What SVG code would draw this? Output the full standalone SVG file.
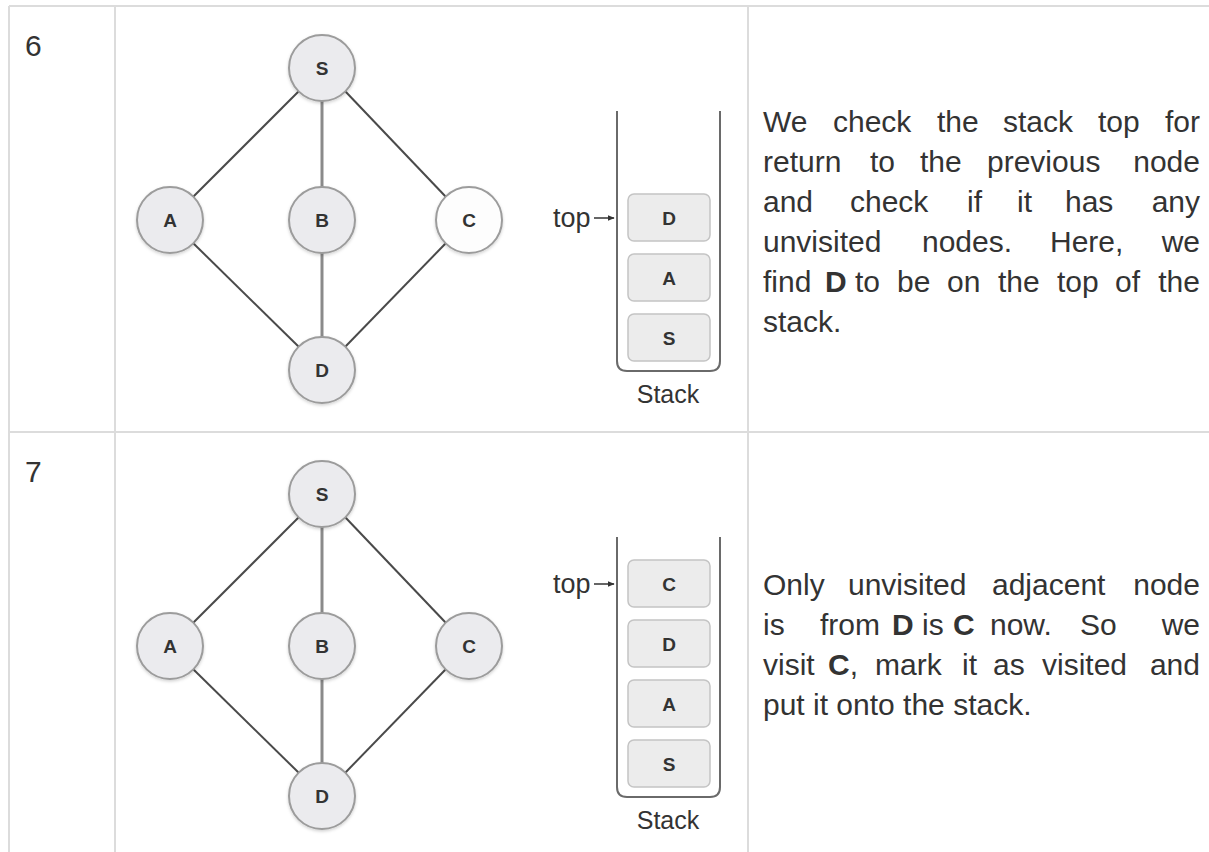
<svg xmlns="http://www.w3.org/2000/svg" width="1209" height="852" viewBox="0 0 1209 852">
<style>
.grid{stroke:#dcdcdc;stroke-width:2;fill:none}
.num{font-family:"Liberation Sans",Arial,sans-serif;font-size:30px;fill:#333}
.txt{font-family:"Liberation Sans",Arial,sans-serif;font-size:30px;fill:#333}
.b{font-weight:bold}
.node circle{fill:#ebebee;stroke:#9c9c9c;stroke-width:2}
.node.white circle{fill:#fdfdfd}
.lbl{font-family:"Liberation Sans",Arial,sans-serif;font-size:19px;font-weight:bold;fill:#333;text-anchor:middle;dominant-baseline:central}
.ed{stroke:#4a4a4a;stroke-width:2;fill:none}
.ev{stroke:#8a8a8a;stroke-width:3;fill:none}
.wall{stroke:#6a6a6a;stroke-width:2;fill:none}
.box rect{fill:#ececec;stroke:#c4c4c4;stroke-width:1.5}
.top{font-family:"Liberation Sans",Arial,sans-serif;font-size:27px;fill:#333}
.stk{font-family:"Liberation Sans",Arial,sans-serif;font-size:25px;fill:#333;text-anchor:middle}
</style>
<defs>
<marker id="ah" viewBox="0 0 10 10" refX="9" refY="5" markerWidth="7" markerHeight="7" orient="auto" markerUnits="userSpaceOnUse">
<path d="M0,1 L10,5 L0,9 z" fill="#333"/>
</marker>
<filter id="sh" x="-20%" y="-20%" width="140%" height="150%">
<feDropShadow dx="0" dy="1.5" stdDeviation="1.5" flood-color="#000" flood-opacity="0.18"/>
</filter>
</defs>
<rect width="1209" height="852" fill="#fff"/>
<g id="table">
<line class="grid" x1="9" y1="6" x2="1209" y2="6"/>
<line class="grid" x1="9" y1="432" x2="1209" y2="432"/>
<line class="grid" x1="9" y1="6" x2="9" y2="852"/>
<line class="grid" x1="115" y1="6" x2="115" y2="852"/>
<line class="grid" x1="748" y1="6" x2="748" y2="852"/>
<text class="num" x="25" y="56">6</text>
<text class="num" x="25" y="482">7</text>
</g>
<g id="connectors">
<line class="ed" x1="299" y1="91" x2="193" y2="197"/>
<line class="ev" x1="322" y1="101" x2="322" y2="187"/>
<line class="ed" x1="345" y1="91" x2="446" y2="197"/>
<line class="ed" x1="193" y1="243" x2="299" y2="347"/>
<line class="ev" x1="322" y1="253" x2="322" y2="337"/>
<line class="ed" x1="446" y1="243" x2="345" y2="347"/>
<line class="ed" x1="299" y1="517" x2="193" y2="623"/>
<line class="ev" x1="322" y1="527" x2="322" y2="613"/>
<line class="ed" x1="345" y1="517" x2="446" y2="623"/>
<line class="ed" x1="193" y1="669" x2="299" y2="773"/>
<line class="ev" x1="322" y1="679" x2="322" y2="763"/>
<line class="ed" x1="446" y1="669" x2="345" y2="773"/>
<line stroke="#333" stroke-width="1.5" x1="594" y1="218" x2="614" y2="218" marker-end="url(#ah)"/>
<line stroke="#333" stroke-width="1.5" x1="594" y1="584" x2="614" y2="584" marker-end="url(#ah)"/>
</g>
<g id="n6S" class="node"><circle cx="322" cy="68" r="33" filter="url(#sh)"/><text class="lbl" x="322" y="68">S</text></g>
<g id="n6A" class="node"><circle cx="170" cy="220" r="33" filter="url(#sh)"/><text class="lbl" x="170" y="220">A</text></g>
<g id="n6B" class="node"><circle cx="322" cy="220" r="33" filter="url(#sh)"/><text class="lbl" x="322" y="220">B</text></g>
<g id="n6C" class="node white"><circle cx="469" cy="220" r="33" filter="url(#sh)"/><text class="lbl" x="469" y="220">C</text></g>
<g id="n6D" class="node"><circle cx="322" cy="370" r="33" filter="url(#sh)"/><text class="lbl" x="322" y="370">D</text></g>
<g id="n7S" class="node"><circle cx="322" cy="494" r="33" filter="url(#sh)"/><text class="lbl" x="322" y="494">S</text></g>
<g id="n7A" class="node"><circle cx="170" cy="646" r="33" filter="url(#sh)"/><text class="lbl" x="170" y="646">A</text></g>
<g id="n7B" class="node"><circle cx="322" cy="646" r="33" filter="url(#sh)"/><text class="lbl" x="322" y="646">B</text></g>
<g id="n7C" class="node"><circle cx="469" cy="646" r="33" filter="url(#sh)"/><text class="lbl" x="469" y="646">C</text></g>
<g id="n7D" class="node"><circle cx="322" cy="796" r="33" filter="url(#sh)"/><text class="lbl" x="322" y="796">D</text></g>
<g id="stack6">
<path class="wall" d="M617,111 V361 Q617,371 627,371 H710 Q720,371 720,361 V111"/>
<g class="box"><rect x="628" y="194" width="82" height="47" rx="6"/><text class="lbl" x="669" y="218">D</text></g>
<g class="box"><rect x="628" y="254" width="82" height="47" rx="6"/><text class="lbl" x="669" y="278">A</text></g>
<g class="box"><rect x="628" y="314" width="82" height="47" rx="6"/><text class="lbl" x="669" y="338">S</text></g>
<text class="top" x="553" y="227">top</text>
<text class="stk" x="668" y="403">Stack</text>
</g>
<g id="stack7">
<path class="wall" d="M617,537 V787 Q617,797 627,797 H710 Q720,797 720,787 V537"/>
<g class="box"><rect x="628" y="560" width="82" height="47" rx="6"/><text class="lbl" x="669" y="584">C</text></g>
<g class="box"><rect x="628" y="620" width="82" height="47" rx="6"/><text class="lbl" x="669" y="644">D</text></g>
<g class="box"><rect x="628" y="680" width="82" height="47" rx="6"/><text class="lbl" x="669" y="704">A</text></g>
<g class="box"><rect x="628" y="740" width="82" height="47" rx="6"/><text class="lbl" x="669" y="764">S</text></g>
<text class="top" x="553" y="593">top</text>
<text class="stk" x="668" y="829">Stack</text>
</g>
<g id="desc6" class="txt">
<text class="txt" y="132"><tspan x="763">We</tspan><tspan x="833">check</tspan><tspan x="937">the</tspan><tspan x="1003">stack</tspan><tspan x="1098">top</tspan><tspan x="1200" text-anchor="end">for</tspan></text>
<text class="txt" y="172"><tspan x="763">return</tspan><tspan x="870">to</tspan><tspan x="920">the</tspan><tspan x="987">previous</tspan><tspan x="1200" text-anchor="end">node</tspan></text>
<text class="txt" y="212"><tspan x="763">and</tspan><tspan x="850">check</tspan><tspan x="967">if</tspan><tspan x="1017">it</tspan><tspan x="1065">has</tspan><tspan x="1200" text-anchor="end">any</tspan></text>
<text class="txt" y="252"><tspan x="763">unvisited</tspan><tspan x="922">nodes.</tspan><tspan x="1050">Here,</tspan><tspan x="1200" text-anchor="end">we</tspan></text>
<text class="txt" y="292"><tspan x="763">find</tspan><tspan x="825" class="b">D</tspan><tspan x="855">to</tspan><tspan x="897">be</tspan><tspan x="947">on</tspan><tspan x="998">the</tspan><tspan x="1057">top</tspan><tspan x="1115">of</tspan><tspan x="1200" text-anchor="end">the</tspan></text>
<text class="txt" x="763" y="332">stack.</text>
</g>
<g id="desc7" class="txt">
<text class="txt" y="595"><tspan x="763">Only</tspan><tspan x="848">unvisited</tspan><tspan x="992">adjacent</tspan><tspan x="1200" text-anchor="end">node</tspan></text>
<text class="txt" y="635"><tspan x="763">is</tspan><tspan x="820">from</tspan><tspan x="892" class="b">D</tspan><tspan x="922">is</tspan><tspan x="953" class="b">C</tspan><tspan x="990">now.</tspan><tspan x="1080">So</tspan><tspan x="1200" text-anchor="end">we</tspan></text>
<text class="txt" y="675"><tspan x="763">visit</tspan><tspan x="828" class="b">C</tspan><tspan>,</tspan><tspan x="875">mark</tspan><tspan x="962">it</tspan><tspan x="993">as</tspan><tspan x="1042">visited</tspan><tspan x="1200" text-anchor="end">and</tspan></text>
<text class="txt" x="763" y="715">put it onto the stack.</text>
</g>
</svg>
